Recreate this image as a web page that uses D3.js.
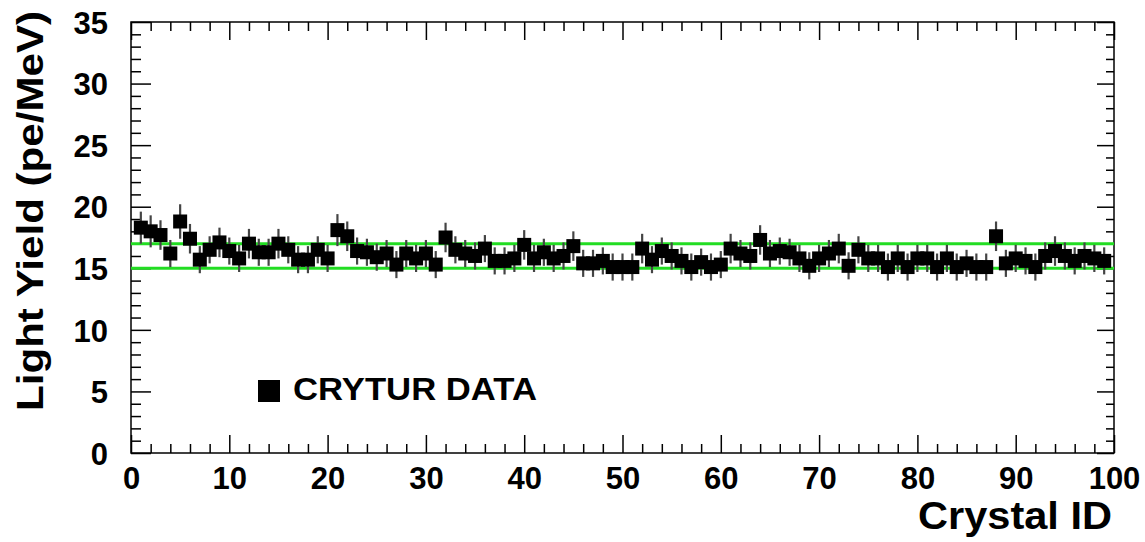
<!DOCTYPE html>
<html>
<head>
<meta charset="utf-8">
<script src="https://cdn.jsdelivr.net/npm/d3@7"></script>
<style>
  body { margin: 0; background: #fff; }
  text { font-family: "Liberation Sans", Arial, sans-serif; font-weight: bold; fill: #000; }
</style>
</head>
<body>
<div id="chart"></div>
<script>
// light yield per crystal, crystal ID = index + 1
const lightYield = [
  18.3, 18.0, 17.7, 16.2, 18.8, 17.4, 15.7, 16.5, 17.1, 16.4,
  15.8, 17.0, 16.3, 16.3, 17.0, 16.5, 15.7, 15.7, 16.5, 15.8,
  18.1, 17.6, 16.4, 16.3, 15.9, 16.2, 15.3, 16.2, 15.8, 16.2,
  15.3, 17.5, 16.5, 16.2, 16.0, 16.6, 15.6, 15.6, 15.8, 16.9,
  15.8, 16.3, 15.8, 16.0, 16.8, 15.4, 15.4, 15.6, 15.1, 15.1,
  15.1, 16.6, 15.7, 16.4, 16.0, 15.6, 15.1, 15.5, 15.1, 15.3,
  16.6, 16.2, 16.0, 17.3, 16.2, 16.4, 16.3, 15.8, 15.2, 15.8,
  16.2, 16.6, 15.2, 16.5, 15.8, 15.8, 15.1, 15.8, 15.1, 15.8,
  15.8, 15.1, 15.8, 15.1, 15.4, 15.1, 15.1, 17.6, 15.4, 15.8,
  15.6, 15.1, 16.0, 16.4, 16.0, 15.6, 16.0, 15.8, 15.6
];
const yieldError = [
  1.3, 1.3, 1.2, 1.1, 1.4, 1.2, 1.1, 1.1, 1.2, 1.1,
  1.1, 1.2, 1.1, 1.1, 1.2, 1.1, 1.1, 1.1, 1.1, 1.1,
  1.3, 1.2, 1.1, 1.1, 1.1, 1.1, 1.1, 1.1, 1.1, 1.1,
  1.1, 1.2, 1.1, 1.1, 1.1, 1.1, 1.1, 1.1, 1.1, 1.2,
  1.1, 1.1, 1.1, 1.1, 1.2, 1.1, 1.1, 1.1, 1.1, 1.1,
  1.1, 1.2, 1.1, 1.1, 1.1, 1.1, 1.1, 1.1, 1.1, 1.1,
  1.2, 1.1, 1.1, 1.2, 1.1, 1.1, 1.1, 1.1, 1.1, 1.1,
  1.1, 1.2, 1.1, 1.1, 1.1, 1.1, 1.1, 1.1, 1.1, 1.1,
  1.1, 1.1, 1.1, 1.1, 1.1, 1.1, 1.1, 1.2, 1.1, 1.1,
  1.1, 1.1, 1.1, 1.2, 1.1, 1.1, 1.1, 1.1, 1.1
];
// acceptance band (green lines)
const bandLevels = [15, 17];
const xTicks = [0, 10, 20, 30, 40, 50, 60, 70, 80, 90, 100];
const yTicks = [0, 5, 10, 15, 20, 25, 30, 35];
const legendLabel = "CRYTUR DATA";

const data = lightYield.map((v, i) => ({ id: i + 1, y: v, err: yieldError[i] }));

const w = 1145, h = 542;
const margin = { top: 22, right: 31, bottom: 89, left: 131 };
const innerW = w - margin.left - margin.right;
const innerH = h - margin.top - margin.bottom;

const svg = d3.select("#chart").append("svg")
  .attr("width", w)
  .attr("height", h)
  .attr("viewBox", [0, 0, w, h]);

svg.append("rect").attr("width", w).attr("height", h).attr("fill", "#fff");

const g = svg.append("g")
  .attr("transform", "translate(" + margin.left + "," + margin.top + ")");

const xScale = d3.scaleLinear().domain([0, 100]).range([0, innerW]);
const yScale = d3.scaleLinear().domain([0, 35]).range([innerH, 0]);

// axes: major ticks via d3 axis, minor ticks drawn as extra axes without labels
const xMinorVals = d3.range(0, 101, 2).filter(v => v % 10);
const yMinorVals = d3.range(0, 36, 1).filter(v => v % 5);

const xAxis = d3.axisBottom(xScale).tickValues(xTicks).tickSizeInner(-18).tickSizeOuter(0).tickPadding(14);
const xMinor = d3.axisBottom(xScale).tickValues(xMinorVals).tickSize(-9).tickFormat("");
const yAxis = d3.axisLeft(yScale).tickValues(yTicks).tickSizeInner(-20).tickSizeOuter(0).tickPadding(23);
const yMinor = d3.axisLeft(yScale).tickValues(yMinorVals).tickSize(-10).tickFormat("");

const xAxisG = g.append("g").attr("transform", "translate(0," + innerH + ")").call(xAxis);
g.append("g").attr("transform", "translate(0," + innerH + ")").call(xMinor);
const yAxisG = g.append("g").call(yAxis);
g.append("g").call(yMinor);

// mirrored ticks on top and right
g.append("g").call(d3.axisTop(xScale).tickValues(xTicks).tickSize(-18).tickFormat(""));
g.append("g").call(d3.axisTop(xScale).tickValues(xMinorVals).tickSize(-9).tickFormat(""));
g.append("g").attr("transform", "translate(" + innerW + ",0)")
  .call(d3.axisRight(yScale).tickValues(yTicks).tickSize(-17).tickFormat(""));
g.append("g").attr("transform", "translate(" + innerW + ",0)")
  .call(d3.axisRight(yScale).tickValues(yMinorVals).tickSize(-8).tickFormat(""));

g.selectAll(".domain").remove();
g.selectAll(".tick line").attr("stroke", "#000").attr("stroke-width", 1.5);

xAxisG.selectAll("text")
  .attr("font-size", 31)
  .attr("font-family", "Liberation Sans, Arial, sans-serif")
  .attr("font-weight", "bold")
  .attr("dy", "0.71em");
yAxisG.selectAll("text")
  .attr("font-size", 31)
  .attr("font-family", "Liberation Sans, Arial, sans-serif")
  .attr("font-weight", "bold")
  .attr("dy", "0.36em");

// frame
g.append("rect")
  .attr("width", innerW)
  .attr("height", innerH)
  .attr("fill", "none")
  .attr("stroke", "#000")
  .attr("stroke-width", 1.5);

// green band lines
g.selectAll(".band")
  .data(bandLevels)
  .enter()
  .append("line")
  .attr("x1", 0)
  .attr("x2", innerW)
  .attr("y1", d => yScale(d))
  .attr("y2", d => yScale(d))
  .attr("stroke", "#22dd22")
  .attr("stroke-width", 3);

// error bars
g.selectAll(".err")
  .data(data)
  .enter()
  .append("line")
  .attr("x1", d => xScale(d.id))
  .attr("x2", d => xScale(d.id))
  .attr("y1", d => yScale(d.y - d.err))
  .attr("y2", d => yScale(d.y + d.err))
  .attr("stroke", "#444")
  .attr("stroke-width", 2.2);

// markers
const s = 14;
g.selectAll(".pt")
  .data(data)
  .enter()
  .append("rect")
  .attr("x", d => xScale(d.id) - s / 2)
  .attr("y", d => yScale(d.y) - s / 2)
  .attr("width", s)
  .attr("height", s)
  .attr("fill", "#000");

// legend
svg.append("rect")
  .attr("x", 258).attr("y", 380)
  .attr("width", 22).attr("height", 22)
  .attr("fill", "#000");
svg.append("text")
  .attr("x", 293).attr("y", 400)
  .attr("font-size", 31)
  .attr("textLength", 244)
  .attr("lengthAdjust", "spacingAndGlyphs")
  .text(legendLabel);

// axis titles
svg.append("text")
  .attr("x", 1112).attr("y", 529)
  .attr("text-anchor", "end")
  .attr("font-size", 39)
  .attr("textLength", 194)
  .attr("lengthAdjust", "spacingAndGlyphs")
  .text("Crystal ID");

svg.append("text")
  .attr("transform", "translate(43,211) rotate(-90)")
  .attr("text-anchor", "middle")
  .attr("font-size", 36)
  .attr("textLength", 400)
  .attr("lengthAdjust", "spacingAndGlyphs")
  .text("Light Yield (pe/MeV)");
</script>
</body>
</html>
